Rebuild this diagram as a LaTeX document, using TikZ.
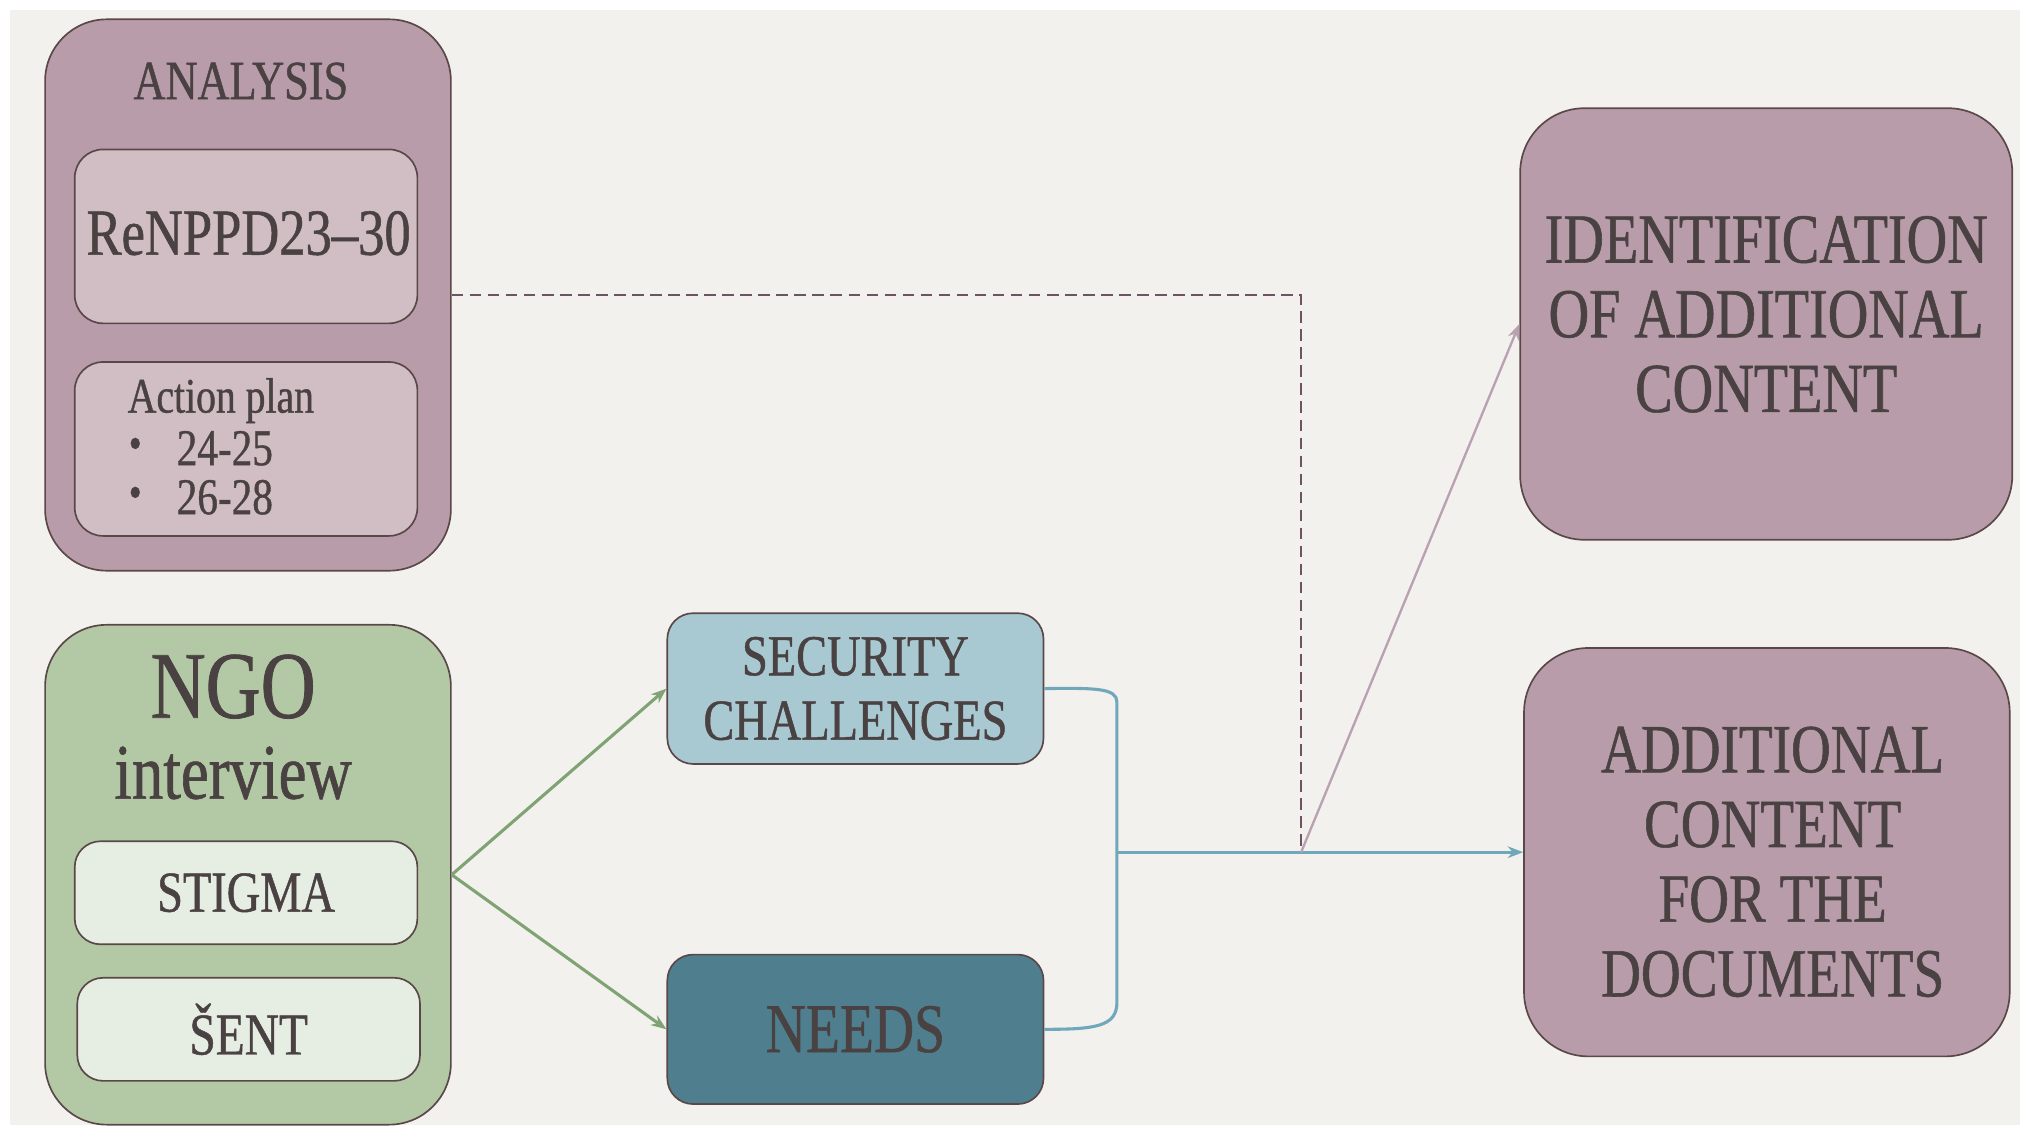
\documentclass[tikz,border=0pt]{standalone}
\usepackage{fontspec}
\setmainfont[FakeStretch=0.8,FakeBold=0.8]{Liberation Serif}
\usetikzlibrary{arrows.meta}
\definecolor{bg}{HTML}{F2F1EE}
\definecolor{mauve}{HTML}{B99CA9}
\definecolor{mauvelt}{HTML}{D1BEC5}
\definecolor{sage}{HTML}{B3C9A5}
\definecolor{sagelt}{HTML}{E6EEE4}
\definecolor{skyb}{HTML}{A9C9D2}
\definecolor{tealbox}{HTML}{4F7F8E}
\definecolor{edgec}{HTML}{5A4848}
\definecolor{txt}{HTML}{4A4242}
\definecolor{greenln}{HTML}{80A374}
\definecolor{blueln}{HTML}{6FA8BA}
\definecolor{dashln}{HTML}{6E5462}
\definecolor{pinkln}{HTML}{B9A1B2}
\tikzset{
  box/.style={draw=edgec, line width=1.3pt, inner sep=0pt},
  lbl/.style={text=txt, inner sep=0pt, align=center},
  conn/.style={line width=2.4pt},
  tip/.style={-{Stealth[length=12pt,width=9pt]}}
}
\begin{document}
\begin{tikzpicture}[x=1pt,y=-1pt]
\fill[white] (0,0) rectangle (1568,877);
\fill[bg] (8,8) rectangle (1568,873);
\useasboundingbox (0,0) rectangle (1568,877);

% ANALYSIS group
\node[box, fill=mauve, minimum width=315pt, minimum height=428pt, rounded corners=48pt] (analysis) at (192.5,229) {};
\node[lbl, font=\fontsize{43}{48}\selectfont] (antitle) at (187,63) {ANALYSIS};
\node[box, fill=mauvelt, minimum width=266pt, minimum height=135pt, rounded corners=22pt] (renppd) at (191,183.5) {};
\node[lbl, font=\fontsize{51}{56}\selectfont] (renppdt) at (193,181) {ReNPPD23–30};
\node[box, fill=mauvelt, minimum width=266pt, minimum height=135pt, rounded corners=22pt] (aplan) at (191,348.5) {};
\node[lbl, anchor=west, font=\fontsize{38.5}{42}\selectfont] (aplant) at (99,311) {Action plan};
\node[lbl, font=\fontsize{36}{40}\selectfont] (b1) at (105,348) {•};
\node[lbl, anchor=west, font=\fontsize{40}{44}\selectfont] (y1) at (137,348) {24-25};
\node[lbl, font=\fontsize{36}{40}\selectfont] (b2) at (105,386) {•};
\node[lbl, anchor=west, font=\fontsize{40}{44}\selectfont] (y2) at (137,386) {26-28};

% NGO group
\node[box, fill=sage, minimum width=315pt, minimum height=388pt, rounded corners=48pt] (ngo) at (192.5,679) {};
\node[lbl, font=\fontsize{74}{80}\selectfont] (ngot) at (181,533) {NGO};
\node[lbl, font=\fontsize{61}{66}\selectfont] (intv) at (181,600) {interview};
\node[box, fill=sagelt, minimum width=266pt, minimum height=80pt, rounded corners=20pt] (stigma) at (191,693) {};
\node[lbl, font=\fontsize{45}{50}\selectfont] (stigmat) at (191,693) {STIGMA};
\node[box, fill=sagelt, minimum width=266pt, minimum height=80pt, rounded corners=20pt] (sent) at (193,799) {};
\node[lbl, font=\fontsize{46}{50}\selectfont] (sentt) at (193,799) {ŠENT};

% middle boxes
\node[box, fill=skyb, minimum width=292pt, minimum height=117pt, rounded corners=20pt,
      text=txt, align=center, font=\fontsize{45}{50}\selectfont] (sec) at (664,534.5) {SECURITY\\CHALLENGES};
\node[box, fill=tealbox, minimum width=292pt, minimum height=116pt, rounded corners=20pt,
      text=txt, font=\fontsize{54}{58}\selectfont] (needs) at (664,799) {NEEDS};

% right boxes
\node[box, fill=mauve, minimum width=382pt, minimum height=335pt, rounded corners=50pt] (ident) at (1371,251.5) {};
\node[lbl, font=\fontsize{54.5}{58}\selectfont] (identt) at (1371,244) {IDENTIFICATION\\OF ADDITIONAL\\CONTENT};
\node[box, fill=mauve, minimum width=377pt, minimum height=317pt, rounded corners=50pt] (addc) at (1371.5,661.5) {};
\node[lbl, font=\fontsize{53.5}{58}\selectfont] (addct) at (1376,669) {ADDITIONAL\\CONTENT\\FOR THE\\DOCUMENTS};

% connectors
\draw[conn, greenln, tip] (ngo.east) -- (sec.west);
\draw[conn, greenln, tip] (ngo.east) -- (needs.west);

\coordinate (bx) at (867,661.5);
\coordinate (bt) at (867,545);
\coordinate (bb) at (867,778);
\draw[conn, blueln] (sec.east) .. controls (850,534) and (867,534) .. (bt) -- (bb) .. controls (867,797) and (850,799) .. (needs.east);
\draw[conn, blueln, tip] (bx) -- (addc.west);

\coordinate (dc) at (1010,229);
\coordinate (junc) at (1010,661.5);
\draw[line width=2pt, dashln, dash pattern=on 9pt off 5pt] (analysis.east) -- (dc) -- (junc);
\draw[line width=1.8pt, pinkln, tip] (junc) -- (ident.west);
\end{tikzpicture}
\end{document}
